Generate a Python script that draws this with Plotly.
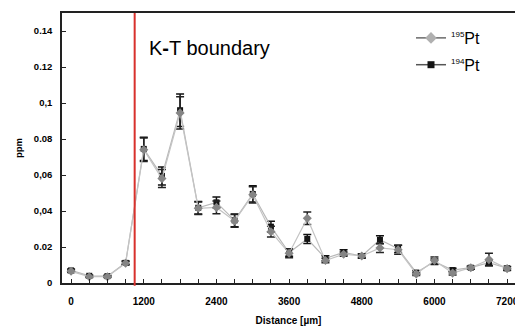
import plotly.graph_objects as go

distance = [0, 300, 600, 900, 1200, 1500, 1800, 2100, 2400, 2700, 3000, 3300,
            3600, 3900, 4200, 4500, 4800, 5100, 5400, 5700, 6000, 6300, 6600, 6900, 7200]
pt195 = [0.0065, 0.0035, 0.0035, 0.011, 0.074, 0.058, 0.0945, 0.0415, 0.042, 0.0345,
         0.049, 0.0285, 0.0165, 0.036, 0.0125, 0.016, 0.015, 0.0195, 0.0185, 0.005,
         0.0125, 0.0055, 0.0085, 0.013, 0.008]
pt195_err = [0.0007, 0.0004, 0.0004, 0.0009, 0.0065, 0.005, 0.009, 0.0035, 0.0035, 0.0035,
             0.0045, 0.003, 0.0025, 0.0035, 0.0012, 0.0012, 0.001, 0.0025, 0.0025, 0.0008,
             0.002, 0.001, 0.0008, 0.0035, 0.001]
pt194 = [0.007, 0.004, 0.0038, 0.0112, 0.0745, 0.0595, 0.096, 0.0418, 0.0448, 0.0348,
         0.0495, 0.0313, 0.0168, 0.0245, 0.0137, 0.017, 0.015, 0.024, 0.019, 0.0058,
         0.0118, 0.0072, 0.0085, 0.0113, 0.0082]
pt194_err = [0.0008, 0.0005, 0.0005, 0.001, 0.0065, 0.005, 0.009, 0.0035, 0.003, 0.0035,
             0.0045, 0.003, 0.002, 0.0025, 0.0015, 0.0015, 0.0012, 0.0022, 0.002, 0.001,
             0.0015, 0.001, 0.0008, 0.0015, 0.001]
boundary_x = 1050
x_tickvals = [0, 1200, 2400, 3600, 4800, 6000, 7200]
y_tickvals = [0, 0.02, 0.04, 0.06, 0.08, 0.1, 0.12, 0.14]
y_ticktext = ["0", "0.02", "0,04", "0,06", "0.08", "0,1", "0.12", "0.14"]

FONT = "Liberation Sans, Arial, sans-serif"

fig = go.Figure()

fig.add_trace(go.Scatter(
    x=distance, y=pt194, mode="lines+markers", showlegend=False,
    line=dict(color="#b8b8b8", width=1.2),
    marker=dict(symbol="square", size=6, color="#141414"),
    error_y=dict(type="data", array=pt194_err, color="#111111", thickness=1.5, width=4),
))
fig.add_trace(go.Scatter(
    x=distance, y=pt195, mode="lines+markers", showlegend=False,
    line=dict(color="#c4c4c4", width=1.2),
    marker=dict(symbol="diamond", size=7, color="#858585"),
    error_y=dict(type="data", array=pt195_err, color="#222222", thickness=1.5, width=4),
))
# legend entries
fig.add_trace(go.Scatter(
    x=[None], y=[None], mode="lines+markers",
    name="<sup><span style='font-size:8px'>195</span></sup>Pt",
    line=dict(color="#444444", width=1.2),
    marker=dict(symbol="diamond", size=9, color="#b0b0b0"),
    legendgroup="a",
))
fig.add_trace(go.Scatter(
    x=[None], y=[None], mode="lines+markers",
    name="<sup><span style='font-size:8px'>194</span></sup>Pt",
    line=dict(color="#555555", width=1.5),
    marker=dict(symbol="square", size=7, color="#141414"),
    legendgroup="b",
))

fig.add_shape(type="line", xref="x", yref="paper", x0=boundary_x, x1=boundary_x,
              y0=-0.01, y1=1, line=dict(color="#d8312c", width=2))

fig.add_annotation(text="K<b>-</b>T boundary", xref="paper", yref="paper",
                   x=(147 - 62) / 453, y=1 - (48 - 13) / 270,
                   xanchor="left", yanchor="middle", showarrow=False,
                   font=dict(family=FONT, size=20, color="#000"))

fig.update_layout(
    width=515, height=326,
    margin=dict(l=62, r=0, t=13, b=43),
    paper_bgcolor="white", plot_bgcolor="white",
    font=dict(family=FONT, color="#000"),
    legend=dict(x=(411 - 62) / 453, y=1 - (21 - 13) / 270, xanchor="left", yanchor="top",
                font=dict(family=FONT, size=16), bgcolor="rgba(0,0,0,0)",
                tracegroupgap=3, itemwidth=30),
    xaxis=dict(
        range=[-150, 7330], tickvals=x_tickvals, ticktext=[str(v) for v in x_tickvals],
        ticks="inside", ticklen=4, tickcolor="#222", tickwidth=1,
        minor=dict(dtick=300, tick0=0, ticks="inside", ticklen=4, tickcolor="#222"),
        showline=True, linecolor="#222", linewidth=2, mirror=True,
        showgrid=False, zeroline=False, automargin=False,
        ticklabeloverflow="allow",
        tickfont=dict(family=FONT, size=10, weight="bold"),
        ticklabelstandoff=8,
        title=dict(text="<b>Distance [µm]</b>", font=dict(family=FONT, size=10), standoff=11),
    ),
    yaxis=dict(
        range=[0, 0.15], tickvals=y_tickvals, ticktext=y_ticktext,
        ticks="inside", ticklen=4, tickcolor="#222", tickwidth=1,
        showline=True, linecolor="#222", linewidth=1.5,
        showgrid=False, zeroline=False, automargin=False,
        tickfont=dict(family=FONT, size=9.5, weight="bold"),
        ticklabelstandoff=6,
        title=dict(text="<b>ppm</b>", font=dict(family=FONT, size=9.5), standoff=10),
    ),
)

fig.write_html("out.html", config={"displayModeBar": False},
               post_script="document.body.style.margin='0';document.body.style.overflow='hidden';"
                           "document.documentElement.style.overflow='hidden';")
